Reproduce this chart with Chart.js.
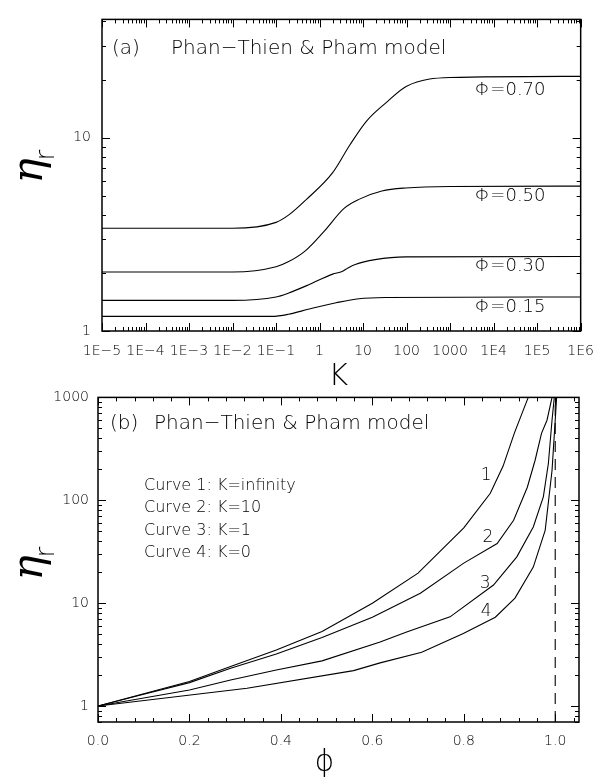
<!DOCTYPE html>
<html>
<head>
<meta charset="utf-8">
<script src="https://cdn.jsdelivr.net/npm/chart.js@4.4.1/dist/chart.umd.min.js"></script>
<style>
  html, body { margin: 0; padding: 0; background: #fff; }
  #wrap { position: relative; width: 606px; height: 780px; }
  canvas { position: absolute; left: 0; }
  #chartA { top: 0; }
  #chartB { top: 380px; }
</style>
</head>
<body>
<div id="wrap">
  <canvas id="chartA" width="606" height="400"></canvas>
  <canvas id="chartB" width="606" height="400"></canvas>
</div>
<script>
// ---- panel (a): eta_r against K ----
const kTicks = [1e-5, 1e-4, 1e-3, 1e-2, 1e-1, 1, 10, 100, 1000, 1e4, 1e5, 1e6];
const kTickLabels = ["1E\u22125", "1E\u22124", "1E\u22123", "1E\u22122", "1E\u22121", "1", "10", "100", "1000", "1E4", "1E5", "1E6"];
const etaTicksA = [1, 10];
const phiNames = ["\u03A6=0.70", "\u03A6=0.50", "\u03A6=0.30", "\u03A6=0.15"];

const k70 = [1e-5, 1e-2, 0.1, 0.2, 0.5, 2, 5, 12, 35, 100, 1000, 1e6];
const eta70 = [3.4, 3.4, 3.65, 4.0, 4.8, 6.6, 9.2, 12.2, 15.3, 18.5, 20.5, 20.8];
const k50 = [1e-5, 1e-2, 0.1, 0.19, 0.47, 1.3, 3.6, 8, 27, 95, 1000, 1e6];
const eta50 = [2.02, 2.02, 2.15, 2.28, 2.6, 3.3, 4.3, 4.8, 5.3, 5.5, 5.6, 5.62];
const k30 = [1e-5, 1e-2, 0.1, 0.19, 0.58, 2, 3.3, 4.5, 6.6, 19, 95, 1e6];
const eta30 = [1.44, 1.44, 1.5, 1.57, 1.74, 1.97, 2.03, 2.12, 2.21, 2.34, 2.42, 2.43];
const k15 = [1e-5, 0.08, 0.19, 0.58, 2.4, 8, 34, 1e6];
const eta15 = [1.19, 1.19, 1.22, 1.3, 1.4, 1.47, 1.49, 1.5];

// ---- panel (b): eta_r against phi ----
const phiTicks = [0, 0.2, 0.4, 0.6, 0.8, 1.0];
const etaTicksB = [1, 10, 100, 1000];
const curveNames = ["1", "2", "3", "4"];
const legendLines = ["Curve 1: K=infinity", "Curve 2: K=10", "Curve 3: K=1", "Curve 4: K=0"];

const phi1 = [0, 0.1, 0.2, 0.29, 0.39, 0.49, 0.6, 0.7, 0.8, 0.858, 0.886, 0.911, 0.941];
const eta1 = [1, 1.32, 1.73, 2.42, 3.5, 5.3, 10, 19.6, 54, 117, 215, 455, 1000];
const phi2 = [0, 0.1, 0.2, 0.29, 0.39, 0.49, 0.6, 0.705, 0.8, 0.873, 0.909, 0.939, 0.956, 0.97, 0.982, 0.993];
const eta2 = [1, 1.3, 1.69, 2.33, 3.21, 4.63, 7.3, 12.5, 24.5, 38, 64, 134, 245, 447, 600, 1000];
const phi3 = [0, 0.2, 0.29, 0.39, 0.49, 0.617, 0.675, 0.77, 0.865, 0.916, 0.952, 0.974, 0.985, 0.993, 0.998];
const eta3 = [1, 1.43, 1.79, 2.24, 2.75, 4.2, 5.25, 7.36, 15, 28.2, 55, 108, 228, 600, 1000];
const phi4 = [0, 0.326, 0.559, 0.617, 0.708, 0.799, 0.869, 0.912, 0.952, 0.978, 0.993, 1.0, 1.003];
const eta4 = [1, 1.49, 2.21, 2.63, 3.33, 5.08, 7.3, 11.2, 22.4, 51, 195, 600, 1000];
const limitPhi = [1, 1];
const limitEta = [0.7, 1000];

const FONT = '"DejaVu Sans", sans-serif';
const LIGHT = "200 ";

function pts(xs, ys) {
  return xs.map((x, i) => ({ x: x, y: ys[i] }));
}

function line(data, smooth, dash) {
  return {
    data: data,
    borderColor: "#000",
    borderWidth: 1.1,
    borderDash: dash || [],
    pointRadius: 0,
    cubicInterpolationMode: smooth ? "monotone" : "default",
    tension: 0,
    fill: false
  };
}

// minor tick values of a log axis, every d*10^n inside [lo, hi]
function logMinor(lo, hi) {
  const out = [];
  for (let e = Math.floor(Math.log10(lo)); e <= Math.ceil(Math.log10(hi)); e++) {
    for (let d = 1; d <= 9; d++) {
      const v = d * Math.pow(10, e);
      if (v >= lo * 0.999 && v <= hi * 1.001) out.push(v);
    }
  }
  return out;
}

function linMinor(lo, hi, step) {
  const out = [];
  for (let v = lo; v <= hi + 1e-9; v += step) out.push(v);
  return out;
}

// frame box and inward ticks on all four sides
const frameTicks = {
  id: "frameTicks",
  afterDatasetsDraw(chart, args, opts) {
    const { ctx, chartArea: a, scales } = chart;
    const x = scales.x, y = scales.y;
    ctx.save();
    ctx.strokeStyle = "#000";
    ctx.lineWidth = 1;
    ctx.beginPath();
    const seg = (x1, y1, x2, y2) => { ctx.moveTo(x1, y1); ctx.lineTo(x2, y2); };
    opts.xMinor.forEach(v => {
      const p = Math.round(x.getPixelForValue(v)) + 0.5;
      seg(p, a.bottom, p, a.bottom - 4); seg(p, a.top, p, a.top + 4);
    });
    opts.xMajor.forEach(v => {
      const p = Math.round(x.getPixelForValue(v)) + 0.5;
      seg(p, a.bottom, p, a.bottom - 8); seg(p, a.top, p, a.top + 8);
    });
    opts.yMinor.forEach(v => {
      const p = Math.round(y.getPixelForValue(v)) + 0.5;
      seg(a.left, p, a.left + 4, p); seg(a.right, p, a.right - 4, p);
    });
    opts.yMajor.forEach(v => {
      const p = Math.round(y.getPixelForValue(v)) + 0.5;
      seg(a.left, p, a.left + 8, p); seg(a.right, p, a.right - 8, p);
    });
    ctx.stroke();
    ctx.lineWidth = 1.5;
    ctx.strokeRect(a.left, a.top, a.right - a.left, a.bottom - a.top);
    ctx.restore();
  }
};

function txt(ctx, s, x, y, font, align) {
  ctx.font = font;
  ctx.textAlign = align || "left";
  ctx.textBaseline = "middle";
  ctx.fillStyle = "#000";
  ctx.fillText(s, x, y);
}

// rotated eta with subscript r
function etaTitle(ctx, cx, cy) {
  ctx.save();
  ctx.translate(cx, cy);
  ctx.rotate(-Math.PI / 2);
  ctx.fillStyle = "#000";
  ctx.textBaseline = "alphabetic";
  ctx.textAlign = "left";
  ctx.font = "italic 42px \"DejaVu Serif\"";
  const w = ctx.measureText("\u03B7").width;
  ctx.fillText("\u03B7", -(w + 12) / 2, 4);
  ctx.font = LIGHT + "26px " + FONT;
  ctx.fillText("r", -(w + 12) / 2 + w - 2, 16);
  ctx.restore();
}

const notesA = {
  id: "notesA",
  afterDraw(chart) {
    const { ctx, chartArea: a, scales: { x, y } } = chart;
    txt(ctx, "(a)", a.left + 10, a.top + 29, LIGHT + "20px " + FONT);
    txt(ctx, "Phan\u2212Thien & Pham model", a.left + 69, a.top + 29, LIGHT + "20px " + FONT);
    const at = [17.7, 4.97, 2.15, 1.32];
    phiNames.forEach((s, i) => {
      txt(ctx, s, x.getPixelForValue(2.4e4), y.getPixelForValue(at[i]), LIGHT + "18px " + FONT, "center");
    });
    txt(ctx, "K", (a.left + a.right) / 2 - 3, a.bottom + 46, LIGHT + "30px " + FONT, "center");
    etaTitle(ctx, 38, 165);
  }
};

const notesB = {
  id: "notesB",
  afterDraw(chart) {
    const { ctx, chartArea: a, scales: { x, y } } = chart;
    txt(ctx, "(b)", a.left + 12, a.top + 26, LIGHT + "20px " + FONT);
    txt(ctx, "Phan\u2212Thien & Pham model", a.left + 56, a.top + 26, LIGHT + "20px " + FONT);
    legendLines.forEach((s, i) => {
      txt(ctx, s, a.left + 46, a.top + 88 + i * 22.5, LIGHT + "16px " + FONT);
    });
    const lx = [0.849, 0.853, 0.847, 0.849];
    const ly = [175, 43.8, 15.6, 8.2];
    curveNames.forEach((s, i) => {
      txt(ctx, s, x.getPixelForValue(lx[i]), y.getPixelForValue(ly[i]), LIGHT + "17px " + FONT, "center");
    });
    txt(ctx, "\u03D5", (a.left + a.right) / 2 - 14, a.bottom + 41, LIGHT + "30px " + FONT, "center");
    etaTitle(ctx, 38, 562 - 380);
  }
};

const tickFont = { family: "DejaVu Sans", size: 14, weight: "200" };

const chartA = new Chart(document.getElementById("chartA"), {
  type: "line",
  data: {
    datasets: [
      line(pts(k70, eta70), true),
      line(pts(k50, eta50), true),
      line(pts(k30, eta30), true),
      line(pts(k15, eta15), true)
    ]
  },
  options: {
    responsive: false,
    animation: false,
    layout: { padding: { top: 6, right: 23, left: 0, bottom: 0 } },
    plugins: {
      legend: { display: false },
      tooltip: { enabled: false },
      frameTicks: {
        xMajor: kTicks, xMinor: logMinor(1e-5, 1e6),
        yMajor: etaTicksA, yMinor: logMinor(1, 40)
      }
    },
    scales: {
      x: {
        type: "logarithmic", min: 1e-5, max: 1e6,
        grid: { display: false, drawTicks: false }, border: { display: false },
        afterBuildTicks: s => { s.ticks = kTicks.map(v => ({ value: v })); },
        afterFit: s => { s.height = 69; },
        ticks: {
          autoSkip: false, maxRotation: 0, padding: 12, color: "#000", font: tickFont,
          callback: (v, i) => kTickLabels[i]
        }
      },
      y: {
        type: "logarithmic", min: 1, max: 41,
        grid: { display: false, drawTicks: false }, border: { display: false },
        afterBuildTicks: s => { s.ticks = etaTicksA.map(v => ({ value: v })); },
        afterFit: s => { s.width = 102; },
        ticks: {
          autoSkip: false, padding: 11, color: "#000", font: tickFont,
          callback: v => String(v)
        }
      }
    }
  },
  plugins: [frameTicks, notesA]
});

const chartB = new Chart(document.getElementById("chartB"), {
  type: "line",
  data: {
    datasets: [
      line(pts(phi1, eta1)),
      line(pts(phi2, eta2)),
      line(pts(phi3, eta3)),
      line(pts(phi4, eta4)),
      line(pts(limitPhi, limitEta), false, [11, 7])
    ]
  },
  options: {
    responsive: false,
    animation: false,
    layout: { padding: { top: 17, right: 27, left: 0, bottom: 0 } },
    plugins: {
      legend: { display: false },
      tooltip: { enabled: false },
      frameTicks: {
        xMajor: phiTicks, xMinor: linMinor(0, 1.04, 0.04),
        yMajor: etaTicksB, yMinor: logMinor(0.7, 1000)
      }
    },
    scales: {
      x: {
        type: "linear", min: 0, max: 1.052,
        grid: { display: false, drawTicks: false }, border: { display: false },
        afterBuildTicks: s => { s.ticks = phiTicks.map(v => ({ value: v })); },
        afterFit: s => { s.height = 58; },
        ticks: {
          autoSkip: false, maxRotation: 0, padding: 11, color: "#000", font: tickFont,
          callback: v => v.toFixed(1)
        }
      },
      y: {
        type: "logarithmic", min: 0.7, max: 1000,
        grid: { display: false, drawTicks: false }, border: { display: false },
        afterBuildTicks: s => { s.ticks = etaTicksB.map(v => ({ value: v })); },
        afterFit: s => { s.width = 98; },
        ticks: {
          autoSkip: false, padding: 9, color: "#000", font: tickFont,
          callback: v => String(v)
        }
      }
    }
  },
  plugins: [frameTicks, notesB]
});
</script>
</body>
</html>
